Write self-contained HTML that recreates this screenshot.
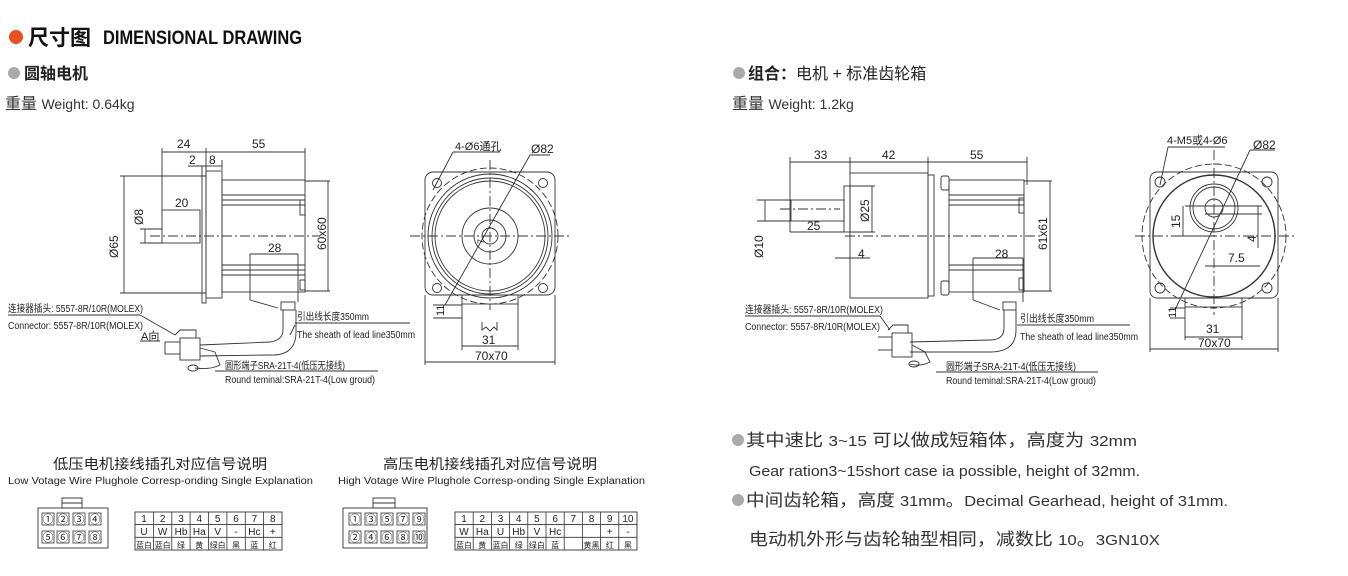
<!DOCTYPE html>
<html><head><meta charset="utf-8"><style>
html,body{margin:0;padding:0;background:#fff;}
body{width:1348px;height:576px;overflow:hidden;position:relative;font-family:"Liberation Sans","Noto Sans CJK SC",sans-serif;color:#222;}
</style></head><body>
<svg width="1348" height="576" viewBox="0 0 1348 576" xmlns="http://www.w3.org/2000/svg" style="position:absolute;left:0;top:0" font-family="Liberation Sans Narrow, Liberation Sans, Noto Sans CJK SC, sans-serif" fill="none" stroke="#333" stroke-width="1">
<!-- header -->
<circle cx="16" cy="37" r="7" fill="#e8501e" stroke="none"/>
<text x="28" y="45" font-size="21" font-weight="bold" fill="#111" stroke="none" font-family="Liberation Sans, Noto Sans CJK SC, sans-serif">尺寸图</text>
<text x="103" y="44" font-size="19" font-weight="bold" fill="#111" stroke="none" textLength="199" lengthAdjust="spacingAndGlyphs" font-family="Liberation Sans, sans-serif">DIMENSIONAL DRAWING</text>
<circle cx="14" cy="73" r="6" fill="#aaa" stroke="none"/>
<text x="24" y="79" font-size="16" font-weight="bold" fill="#222" stroke="none" font-family="Liberation Sans, Noto Sans CJK SC, sans-serif">圆轴电机</text>
<text x="5" y="109" font-size="16" fill="#333" stroke="none" font-family="Liberation Sans, Noto Sans CJK SC, sans-serif">重量 <tspan font-size="14">Weight: 0.64kg</tspan></text>
<circle cx="739" cy="73" r="6" fill="#aaa" stroke="none"/>
<text x="748" y="79" font-size="16" fill="#222" stroke="none" font-family="Liberation Sans, Noto Sans CJK SC, sans-serif"><tspan font-weight="bold">组合：</tspan>电机 + 标准齿轮箱</text>
<text x="732" y="109" font-size="16" fill="#333" stroke="none" font-family="Liberation Sans, Noto Sans CJK SC, sans-serif">重量 <tspan font-size="14">Weight: 1.2kg</tspan></text>

<!-- LEFT SIDE VIEW -->
<g stroke-width="0.9">
<line x1="162" y1="148" x2="162" y2="210"/><line x1="206" y1="148" x2="206" y2="168"/><line x1="305" y1="148" x2="305" y2="180"/>
<line x1="162" y1="152" x2="305" y2="152"/>
<line x1="188" y1="166" x2="206" y2="166"/><line x1="206" y1="166" x2="222" y2="166"/><line x1="222" y1="160" x2="222" y2="170"/>
<rect x="206" y="171" width="16" height="127"/>
<rect x="202" y="166" width="4" height="137"/>
<rect x="222" y="180" width="83" height="112"/>
<line x1="222" y1="195" x2="305" y2="195"/><line x1="222" y1="200" x2="305" y2="200"/><line x1="222" y1="205" x2="305" y2="205"/>
<line x1="222" y1="265" x2="305" y2="265"/><line x1="222" y1="270" x2="305" y2="270"/><line x1="222" y1="275" x2="305" y2="275"/>
<rect x="300" y="200" width="5" height="15"/><rect x="300" y="280" width="5" height="10"/>
<rect x="162" y="210" width="38" height="33"/>
<line x1="140" y1="229" x2="162" y2="229"/><line x1="140" y1="243" x2="162" y2="243"/>
<line x1="120" y1="176" x2="206" y2="176"/><line x1="120" y1="293" x2="206" y2="293"/>
<line x1="124" y1="176" x2="124" y2="293"/><line x1="145" y1="229" x2="145" y2="243"/>
<line x1="150" y1="236" x2="320" y2="236" stroke-dasharray="10 3 2 3"/>
<line x1="305" y1="181" x2="330" y2="181"/><line x1="305" y1="291" x2="330" y2="291"/><line x1="328" y1="181" x2="328" y2="291"/>
<line x1="250" y1="254" x2="298" y2="254"/><line x1="250" y1="254" x2="250" y2="300"/><line x1="298" y1="254" x2="298" y2="302"/>
<rect x="281" y="302" width="14" height="8"/>
<path d="M283 310 L283 330 Q283 340 270 342 L200 345 M296 310 L296 332 Q296 356 270 355 L200 356"/>
<line x1="250" y1="300" x2="278" y2="308"/>
<rect x="180" y="338" width="20" height="22"/><line x1="165" y1="342" x2="180" y2="342"/><line x1="165" y1="354" x2="180" y2="354"/><line x1="165" y1="342" x2="165" y2="354"/>
<path d="M175 335 L180 330 L196 330 L196 338"/>
<path d="M200 348 L215 352 M215 352 L220 365 Q210 370 195 368" />
<ellipse cx="193" cy="368" rx="5" ry="3"/>
<line x1="8" y1="315" x2="140" y2="315"/><line x1="140" y1="315" x2="175" y2="335"/>
<line x1="140" y1="341" x2="160" y2="341"/>
<line x1="295" y1="323" x2="410" y2="323"/><line x1="295" y1="325" x2="290" y2="335"/>
<line x1="215" y1="371" x2="378" y2="371"/>
</g>
<g fill="#222" stroke="none" font-size="12">
<text x="177" y="148">24</text><text x="252" y="148">55</text>
<text x="189" y="164">2</text><text x="209" y="164">8</text>
<text x="175" y="207">20</text><text x="268" y="252">28</text>
<text transform="translate(118,258) rotate(-90)">Ø65</text>
<text transform="translate(143,225) rotate(-90)">Ø8</text>
<text transform="translate(326,250) rotate(-90)">60x60</text>
<text x="8" y="312" font-size="10" textLength="135" lengthAdjust="spacingAndGlyphs">连接器插头: 5557-8R/10R(MOLEX)</text>
<text x="8" y="329" font-size="10" textLength="135" lengthAdjust="spacingAndGlyphs">Connector: 5557-8R/10R(MOLEX)</text>
<text x="141" y="340" font-size="11">A向</text>
<text x="297" y="320" font-size="10" textLength="72" lengthAdjust="spacingAndGlyphs">引出线长度350mm</text>
<text x="297" y="338" font-size="10" textLength="118" lengthAdjust="spacingAndGlyphs">The sheath of lead line350mm</text>
<text x="225" y="369" font-size="10" textLength="120" lengthAdjust="spacingAndGlyphs">圆形端子SRA-21T-4(低压无接线)</text>
<text x="225" y="383" font-size="10" textLength="150" lengthAdjust="spacingAndGlyphs">Round teminal:SRA-21T-4(Low groud)</text>
</g>

<!-- LEFT FRONT VIEW -->
<g stroke-width="0.9">
<rect x="425" y="172" width="130" height="123" rx="8"/>
<circle cx="490" cy="236" r="68" stroke-dasharray="7 3"/>
<circle cx="490" cy="236" r="62"/><circle cx="490" cy="236" r="58"/><circle cx="490" cy="236" r="55"/>
<circle cx="490" cy="236" r="28"/><circle cx="490" cy="236" r="16"/><circle cx="490" cy="236" r="8"/>
<circle cx="437" cy="183" r="4.5"/><circle cx="543" cy="183" r="4.5"/><circle cx="437" cy="288" r="4.5"/><circle cx="543" cy="288" r="4.5"/>
<line x1="410" y1="236" x2="570" y2="236" stroke-dasharray="10 3 2 3"/><line x1="490" y1="160" x2="490" y2="310" stroke-dasharray="10 3 2 3"/>
<rect x="462" y="295" width="56" height="9"/>
<line x1="445" y1="305" x2="530" y2="155"/><line x1="530" y1="155" x2="550" y2="155"/>
<line x1="453" y1="152" x2="500" y2="152"/><line x1="453" y1="152" x2="433" y2="190"/>
<line x1="433" y1="305" x2="462" y2="305"/><line x1="433" y1="318" x2="462" y2="318"/>
<line x1="462" y1="304" x2="462" y2="350"/><line x1="518" y1="304" x2="518" y2="350"/><line x1="462" y1="346" x2="518" y2="346"/>
<line x1="425" y1="295" x2="425" y2="365"/><line x1="555" y1="295" x2="555" y2="365"/><line x1="425" y1="362" x2="555" y2="362"/>
<path d="M482 322 L482 330 L486 327 L490 331 L494 327 L497 330 L497 322"/>
</g>
<g fill="#222" stroke="none" font-size="12">
<text x="455" y="150" font-size="11">4-Ø6通孔</text><text x="531" y="153">Ø82</text>
<text x="482" y="344">31</text><text x="475" y="360">70x70</text>
<text transform="translate(444,316) rotate(-90)" font-size="11">11</text>
<text transform="translate(484,244) rotate(-90)" font-size="9">7</text>
</g>

<!-- RIGHT SIDE VIEW -->
<g stroke-width="0.9">
<line x1="790" y1="157" x2="790" y2="232"/><line x1="850" y1="157" x2="850" y2="173"/><line x1="928" y1="157" x2="928" y2="173"/><line x1="1027" y1="157" x2="1027" y2="185"/>
<line x1="790" y1="162" x2="1027" y2="162"/>
<rect x="850" y="173" width="78" height="125"/>
<rect x="928" y="175" width="6" height="121"/>
<rect x="844" y="186" width="6" height="46"/>
<rect x="791" y="200" width="53" height="21"/>
<line x1="790" y1="232" x2="844" y2="232"/>
<rect x="941" y="176" width="8" height="14" rx="2"/><rect x="941" y="281" width="8" height="14" rx="2"/>
<rect x="949" y="180" width="75" height="112"/>
<line x1="949" y1="195" x2="1024" y2="195"/><line x1="949" y1="200" x2="1024" y2="200"/><line x1="949" y1="205" x2="1024" y2="205"/>
<line x1="949" y1="265" x2="1024" y2="265"/><line x1="949" y1="270" x2="1024" y2="270"/>
<rect x="1019" y="198" width="5" height="15"/><rect x="1019" y="278" width="5" height="12"/>
<line x1="757" y1="200" x2="791" y2="200"/><line x1="757" y1="221" x2="791" y2="221"/><line x1="765" y1="200" x2="765" y2="221"/>
<line x1="780" y1="209" x2="840" y2="209" stroke-dasharray="10 3 2 3"/>
<line x1="845" y1="236" x2="1040" y2="236" stroke-dasharray="10 3 2 3"/>
<line x1="872" y1="186" x2="872" y2="232"/><line x1="850" y1="186" x2="875" y2="186"/><line x1="850" y1="232" x2="875" y2="232"/>
<line x1="835" y1="258" x2="870" y2="258"/>
<line x1="1024" y1="181" x2="1052" y2="181"/><line x1="1024" y1="291" x2="1052" y2="291"/><line x1="1050" y1="181" x2="1050" y2="291"/>
<line x1="973" y1="258" x2="1023" y2="258"/><line x1="973" y1="258" x2="973" y2="300"/><line x1="1023" y1="258" x2="1023" y2="302"/>
<rect x="1003" y="302" width="13" height="8"/>
<path d="M1004 310 L1004 328 Q1004 340 990 340 L910 342 M1016 310 L1016 330 Q1016 352 990 352 L910 352"/>
<line x1="973" y1="300" x2="1000" y2="310"/>
<rect x="892" y="333" width="20" height="24"/><line x1="878" y1="337" x2="892" y2="337"/><line x1="878" y1="350" x2="892" y2="350"/>
<path d="M888 330 L893 325 L908 325 L908 333"/>
<path d="M912 345 L925 352 L930 362 Q920 367 910 364"/>
<ellipse cx="914" cy="364" rx="5" ry="3"/>
<line x1="745" y1="316" x2="880" y2="316"/><line x1="880" y1="316" x2="890" y2="330"/>
<line x1="1017" y1="325" x2="1130" y2="325"/>
<line x1="936" y1="372" x2="1098" y2="372"/>
</g>
<g fill="#222" stroke="none" font-size="12">
<text x="814" y="159">33</text><text x="882" y="159">42</text><text x="970" y="159">55</text>
<text x="807" y="230">25</text><text x="858" y="258">4</text><text x="995" y="258">28</text>
<text transform="translate(869,222) rotate(-90)">Ø25</text>
<text transform="translate(763,258) rotate(-90)">Ø10</text>
<text transform="translate(1047,250) rotate(-90)">61x61</text>
<text x="745" y="313" font-size="10" textLength="138" lengthAdjust="spacingAndGlyphs">连接器插头: 5557-8R/10R(MOLEX)</text>
<text x="745" y="330" font-size="10" textLength="135" lengthAdjust="spacingAndGlyphs">Connector: 5557-8R/10R(MOLEX)</text>
<text x="1020" y="322" font-size="10" textLength="74" lengthAdjust="spacingAndGlyphs">引出线长度350mm</text>
<text x="1020" y="340" font-size="10" textLength="118" lengthAdjust="spacingAndGlyphs">The sheath of lead line350mm</text>
<text x="946" y="370" font-size="10" textLength="130" lengthAdjust="spacingAndGlyphs">圆形端子SRA-21T-4(低压无接线)</text>
<text x="946" y="384" font-size="10" textLength="150" lengthAdjust="spacingAndGlyphs">Round teminal:SRA-21T-4(Low groud)</text>
</g>

<!-- RIGHT FRONT VIEW -->
<g stroke-width="0.9">
<rect x="1150" y="172" width="128" height="126" rx="7"/>
<circle cx="1214" cy="236" r="72" stroke-dasharray="7 3"/>
<circle cx="1214" cy="236" r="61" stroke-width="1.4"/>
<circle cx="1214" cy="208" r="24"/><circle cx="1214" cy="208" r="21"/><circle cx="1214" cy="208" r="9"/>
<circle cx="1160" cy="182" r="5"/><circle cx="1267" cy="182" r="5"/><circle cx="1160" cy="288" r="5"/><circle cx="1267" cy="288" r="5"/>
<line x1="1135" y1="236" x2="1295" y2="236" stroke-dasharray="10 3 2 3"/><line x1="1214" y1="150" x2="1214" y2="315" stroke-dasharray="10 3 2 3"/>
<line x1="1185" y1="206" x2="1262" y2="206"/><line x1="1180" y1="236" x2="1214" y2="236"/><line x1="1183" y1="206" x2="1183" y2="236"/>
<line x1="1205" y1="214" x2="1262" y2="214"/><line x1="1258" y1="206" x2="1258" y2="248"/>
<line x1="1205" y1="266" x2="1260" y2="266"/>
<rect x="1185" y="298" width="57" height="9"/>
<line x1="1175" y1="310" x2="1250" y2="150"/><line x1="1250" y1="150" x2="1275" y2="150"/>
<line x1="1168" y1="147" x2="1225" y2="147"/><line x1="1168" y1="147" x2="1160" y2="185"/>
<line x1="1170" y1="308" x2="1185" y2="308"/><line x1="1170" y1="318" x2="1185" y2="318"/>
<line x1="1185" y1="307" x2="1185" y2="340"/><line x1="1242" y1="307" x2="1242" y2="340"/><line x1="1185" y1="337" x2="1242" y2="337"/>
<line x1="1150" y1="298" x2="1150" y2="352"/><line x1="1278" y1="298" x2="1278" y2="352"/><line x1="1150" y1="349" x2="1278" y2="349"/>
</g>
<g fill="#222" stroke="none" font-size="12">
<text x="1167" y="144" font-size="11">4-M5或4-Ø6</text><text x="1253" y="149">Ø82</text>
<text transform="translate(1180,228) rotate(-90)">15</text>
<text transform="translate(1256,242) rotate(-90)">4</text>
<text x="1228" y="262">7.5</text>
<text x="1206" y="333">31</text><text x="1198" y="347">70x70</text>
<text transform="translate(1176,318) rotate(-90)" font-size="11">11</text>
</g>

<!-- bottom-left tables -->
<g fill="#222" stroke="none" font-family="Liberation Sans, Noto Sans CJK SC, sans-serif">
<text x="53" y="469" font-size="14" textLength="214" lengthAdjust="spacingAndGlyphs">低压电机接线插孔对应信号说明</text>
<text x="8" y="484" font-size="10" textLength="305" lengthAdjust="spacingAndGlyphs">Low Votage Wire Plughole Corresp-onding Single Explanation</text>
<text x="383" y="469" font-size="14" textLength="214" lengthAdjust="spacingAndGlyphs">高压电机接线插孔对应信号说明</text>
<text x="338" y="484" font-size="10" textLength="307" lengthAdjust="spacingAndGlyphs">High Votage Wire Plughole Corresp-onding Single Explanation</text>
</g>
<g stroke-width="0.9">
<rect x="38" y="508" width="70" height="40"/><rect x="62" y="498" width="20" height="10"/><line x1="62" y1="503" x2="82" y2="503"/>
<rect x="343" y="508" width="84" height="40"/><rect x="373" y="498" width="22" height="10"/><line x1="373" y1="503" x2="395" y2="503"/>
<rect x="135" y="512" width="147" height="38"/>
<line x1="135" y1="524.6" x2="282" y2="524.6"/><line x1="135" y1="537.3" x2="282" y2="537.3"/>
<rect x="455" y="512" width="182" height="38"/>
<line x1="455" y1="524.6" x2="637" y2="524.6"/><line x1="455" y1="537.3" x2="637" y2="537.3"/>
</g>
<g stroke-width="0.8">
<line x1="153.4" y1="512" x2="153.4" y2="550"/><line x1="171.8" y1="512" x2="171.8" y2="550"/><line x1="190.1" y1="512" x2="190.1" y2="550"/><line x1="208.5" y1="512" x2="208.5" y2="550"/><line x1="226.9" y1="512" x2="226.9" y2="550"/><line x1="245.3" y1="512" x2="245.3" y2="550"/><line x1="263.6" y1="512" x2="263.6" y2="550"/>
<line x1="473.2" y1="512" x2="473.2" y2="550"/><line x1="491.4" y1="512" x2="491.4" y2="550"/><line x1="509.6" y1="512" x2="509.6" y2="550"/><line x1="527.8" y1="512" x2="527.8" y2="550"/><line x1="546" y1="512" x2="546" y2="550"/><line x1="564.2" y1="512" x2="564.2" y2="550"/><line x1="582.4" y1="512" x2="582.4" y2="550"/><line x1="600.6" y1="512" x2="600.6" y2="550"/><line x1="618.8" y1="512" x2="618.8" y2="550"/>
</g>
<g stroke-width="0.8">
<rect x="42" y="513" width="12" height="12"/><rect x="57" y="513" width="12" height="12"/><rect x="73" y="513" width="12" height="12"/><rect x="89" y="513" width="12" height="12"/>
<rect x="42" y="531" width="12" height="12"/><rect x="57" y="531" width="12" height="12"/><rect x="73" y="531" width="12" height="12"/><rect x="89" y="531" width="12" height="12"/>
<rect x="349" y="513" width="12" height="12"/><rect x="365" y="513" width="12" height="12"/><rect x="381" y="513" width="12" height="12"/><rect x="397" y="513" width="12" height="12"/><rect x="413" y="513" width="12" height="12"/>
<rect x="349" y="531" width="12" height="12"/><rect x="365" y="531" width="12" height="12"/><rect x="381" y="531" width="12" height="12"/><rect x="397" y="531" width="12" height="12"/><rect x="413" y="531" width="12" height="12"/>
</g>
<g fill="#222" stroke="none" font-size="11" text-anchor="middle" font-family="Liberation Sans, Noto Sans CJK SC, sans-serif">
<text x="48" y="523">①</text><text x="63" y="523">②</text><text x="79" y="523">③</text><text x="95" y="523">④</text>
<text x="48" y="541">⑤</text><text x="63" y="541">⑥</text><text x="79" y="541">⑦</text><text x="95" y="541">⑧</text>
<text x="355" y="523">①</text><text x="371" y="523">③</text><text x="387" y="523">⑤</text><text x="403" y="523">⑦</text><text x="419" y="523">⑨</text>
<text x="355" y="541">②</text><text x="371" y="541">④</text><text x="387" y="541">⑥</text><text x="403" y="541">⑧</text><text x="419" y="541">⑩</text>
</g>
<g fill="#222" stroke="none" font-size="10" text-anchor="middle" font-family="Liberation Sans Narrow, Liberation Sans, Noto Sans CJK SC, sans-serif">
<text x="144" y="522">1</text><text x="162.6" y="522">2</text><text x="181" y="522">3</text><text x="199.3" y="522">4</text><text x="217.7" y="522">5</text><text x="236" y="522">6</text><text x="254.4" y="522">7</text><text x="272.8" y="522">8</text>
<text x="144" y="535">U</text><text x="162.6" y="535">W</text><text x="181" y="535">Hb</text><text x="199.3" y="535">Ha</text><text x="217.7" y="535">V</text><text x="236" y="535">-</text><text x="254.4" y="535">Hc</text><text x="272.8" y="535">+</text>
<text x="144" y="548" font-size="8">蓝白</text><text x="162.6" y="548" font-size="8">蓝白</text><text x="181" y="548" font-size="8">绿</text><text x="199.3" y="548" font-size="8">黄</text><text x="217.7" y="548" font-size="8">绿白</text><text x="236" y="548" font-size="8">黑</text><text x="254.4" y="548" font-size="8">蓝</text><text x="272.8" y="548" font-size="8">红</text>
<text x="464" y="522">1</text><text x="482.3" y="522">2</text><text x="500.5" y="522">3</text><text x="518.7" y="522">4</text><text x="536.9" y="522">5</text><text x="555.1" y="522">6</text><text x="573.3" y="522">7</text><text x="591.5" y="522">8</text><text x="609.7" y="522">9</text><text x="627.9" y="522">10</text>
<text x="464" y="535">W</text><text x="482.3" y="535">Ha</text><text x="500.5" y="535">U</text><text x="518.7" y="535">Hb</text><text x="536.9" y="535">V</text><text x="555.1" y="535">Hc</text><text x="609.7" y="535">+</text><text x="627.9" y="535">-</text>
<text x="464" y="548" font-size="8">蓝白</text><text x="482.3" y="548" font-size="8">黄</text><text x="500.5" y="548" font-size="8">蓝白</text><text x="518.7" y="548" font-size="8">绿</text><text x="536.9" y="548" font-size="8">绿白</text><text x="555.1" y="548" font-size="8">蓝</text><text x="591.5" y="548" font-size="8">黄黑</text><text x="609.7" y="548" font-size="8">红</text><text x="627.9" y="548" font-size="8">黑</text>
</g>

<!-- notes -->
<g fill="#333" stroke="none" font-family="Liberation Sans, Noto Sans CJK SC, sans-serif">
<circle cx="738" cy="440" r="6" fill="#aaa"/>
<text x="746" y="446" font-size="17" textLength="391" lengthAdjust="spacingAndGlyphs">其中速比 <tspan font-size="15">3~15</tspan> 可以做成短箱体，高度为 <tspan font-size="15">32mm</tspan></text>
<text x="749" y="476" font-size="15" textLength="391" lengthAdjust="spacingAndGlyphs">Gear ration3~15short case ia possible, height of 32mm.</text>
<circle cx="738" cy="500" r="6" fill="#aaa"/>
<text x="746" y="506" font-size="17" textLength="482" lengthAdjust="spacingAndGlyphs">中间齿轮箱，高度 <tspan font-size="15">31mm</tspan>。<tspan font-size="15">Decimal Gearhead, height of 31mm.</tspan></text>
<text x="749" y="545" font-size="17" textLength="411" lengthAdjust="spacingAndGlyphs">电动机外形与齿轮轴型相同，减数比 <tspan font-size="15">10</tspan>。<tspan font-size="15">3GN10X</tspan></text>
</g>
</svg>
</body></html>
